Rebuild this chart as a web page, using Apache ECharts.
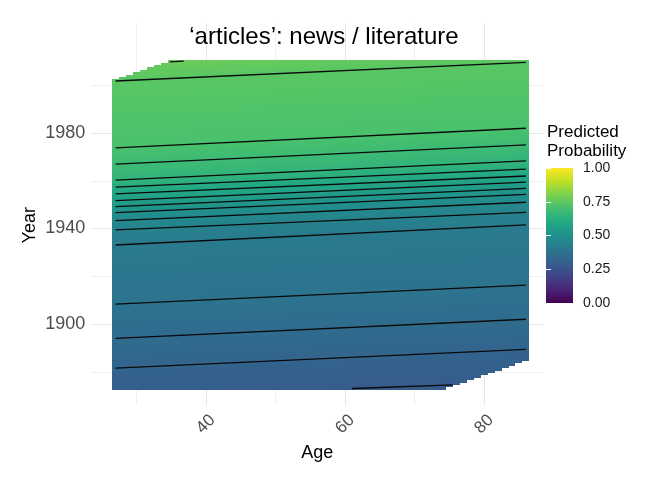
<!DOCTYPE html>
<html>
<head>
<meta charset="utf-8">
<title>'articles': news / literature</title>
<script src="https://cdn.jsdelivr.net/npm/echarts@6/dist/echarts.min.js"></script>
<style>
  html, body { margin: 0; padding: 0; background: #fff; }
  #chart { width: 648px; height: 481px; }
</style>
</head>
<body>
<div id="chart"></div>
<script>
// raster extent: one cell per age / year, only where birth year (year - age) is in range
const ageRange = [27, 86]
const yearRange = [1873, 2010]
const birthYearRange = [1799, 1975]

// contour lines: year where each line meets age 27 and age 86
// (first and last are only partly inside the raster, their ends are extended)
const contourLevels = [0.29, 0.32, 0.35, 0.38, 0.41, 0.44, 0.47, 0.50, 0.53,
  0.56, 0.59, 0.62, 0.65, 0.68, 0.71, 0.74, 0.77]
const contourYearAt27 = [1869.5, 1881.5, 1894.0, 1908.3, 1933.1, 1939.4, 1943.3, 1946.7, 1949.2,
  1951.7, 1954.5, 1957.3, 1960.3, 1967.0, 1973.8, 2001.8, 2008.8]
const contourYearAt86 = [1875.6, 1889.4, 1902.0, 1916.3, 1941.5, 1946.8, 1951.0, 1954.3, 1956.8,
  1959.4, 1962.0, 1964.9, 1968.3, 1975.0, 1982.0, 2009.6, 2016.6]
// visible pieces of the two partial lines
const bottomPartial = [[61, 1873.0], [75.5, 1874.5]]
const topPartial = [[34.8, 2009.8], [36.8, 2010.1]]

const ageTicks = [40, 60, 80]
const ageMinorTicks = [30, 50, 70]
const yearTicks = [1900, 1940, 1980]
const yearMinorTicks = [1880, 1920, 1960, 2000]

const viridis = ['#440154', '#482475', '#414487', '#355f8d', '#2a788e', '#21918c',
  '#22a884', '#44bf70', '#7ad151', '#bddf26', '#fde725']

// probability of a cell, taken between the two contour lines around it
function probAt(age, year) {
  const t = (age - ageRange[0]) / (ageRange[1] - ageRange[0])
  const ys = contourYearAt27.map((y0, i) => y0 + (contourYearAt86[i] - y0) * t)
  const n = ys.length
  let i = 0
  if (year >= ys[n - 1]) i = n - 2
  else if (year > ys[0]) while (year > ys[i + 1]) i++
  const f = (year - ys[i]) / (ys[i + 1] - ys[i])
  return contourLevels[i] + f * (contourLevels[i + 1] - contourLevels[i])
}

const cells = []
for (let a = ageRange[0]; a <= ageRange[1]; a++) {
  for (let y = yearRange[0]; y <= yearRange[1]; y++) {
    const b = y - a
    if (b < birthYearRange[0] || b > birthYearRange[1]) continue
    cells.push([a, y, probAt(a, y)])
  }
}

const contourLines = []
for (let i = 1; i < contourLevels.length - 1; i++) {
  contourLines.push([[ageRange[0], contourYearAt27[i]], [ageRange[1], contourYearAt86[i]]])
}
contourLines.push(bottomPartial, topPartial)

const majorGrid = { color: '#e6e6e6', width: 1, type: 'solid' }
const minorGrid = { color: '#f0f0f0', width: 1, type: 'solid' }
const axisText = { fontFamily: 'Liberation Sans', color: '#4d4d4d', fontSize: 17 }

const chart = echarts.init(document.getElementById('chart'))
const option = {
  animation: false,
  textStyle: { fontFamily: 'Liberation Sans' },
  title: [
    {
      text: '\u2018articles\u2019: news / literature',
      left: 'center',
      top: 25,
      padding: 0,
      textStyle: { fontSize: 24, fontWeight: 'normal', color: '#000' }
    },
    {
      text: 'Predicted\nProbability',
      left: 547,
      top: 123,
      padding: 0,
      textStyle: { fontSize: 17, lineHeight: 19, fontWeight: 'normal', color: '#000' }
    }
  ],
  grid: [
    { left: 91.2, top: 23.2, width: 452.1, height: 382 },
    { left: 546, top: 168, width: 27, height: 135 }
  ],
  xAxis: [
    {
      type: 'value',
      gridIndex: 0,
      min: 23.5,
      max: 88.5,
      axisLine: { show: false },
      axisTick: { show: false },
      splitLine: { show: false },
      axisLabel: Object.assign({
        customValues: ageTicks,
        rotate: 45,
        align: 'center',
        verticalAlign: 'middle',
        margin: 19,
        formatter: v => String(v)
      }, axisText),
      name: 'Age',
      nameLocation: 'middle',
      nameGap: 34,
      nameTextStyle: { fontSize: 18, color: '#000' }
    },
    { type: 'value', gridIndex: 1, min: 0, max: 1, show: false }
  ],
  yAxis: [
    {
      type: 'value',
      gridIndex: 0,
      min: 1866,
      max: 2026,
      axisLine: { show: false },
      axisTick: { show: false },
      splitLine: { show: false },
      axisLabel: Object.assign({
        customValues: yearTicks,
        margin: 6,
        formatter: v => String(v)
      }, axisText, { fontSize: 18 }),
      name: 'Year',
      nameLocation: 'middle',
      nameRotate: 90,
      nameGap: 52,
      nameMoveOverlap: false,
      nameTextStyle: { fontSize: 18, color: '#000', padding: [0, 22, 0, 0] }
    },
    {
      type: 'value',
      gridIndex: 1,
      position: 'right',
      min: 0,
      max: 1,
      interval: 0.25,
      z: 5,
      axisLine: { show: false },
      axisTick: { show: true, inside: true, length: 5, lineStyle: { color: '#fff', width: 1 } },
      splitLine: { show: false },
      axisLabel: { margin: 10, fontSize: 14, color: '#1a1a1a', formatter: v => v.toFixed(2) }
    },
    {
      type: 'value',
      gridIndex: 1,
      position: 'left',
      min: 0,
      max: 1,
      interval: 0.25,
      z: 5,
      axisLine: { show: false },
      axisTick: { show: true, inside: true, length: 5, lineStyle: { color: '#fff', width: 1 } },
      splitLine: { show: false },
      axisLabel: { show: false }
    }
  ],
  visualMap: {
    type: 'continuous',
    show: false,
    seriesIndex: 0,
    dimension: 2,
    min: 0,
    max: 1,
    inRange: { color: viridis }
  },
  series: [
    {
      type: 'custom',
      name: 'raster',
      xAxisIndex: 0,
      yAxisIndex: 0,
      z: 2,
      silent: true,
      data: cells,
      encode: { x: 0, y: 1 },
      renderItem(params, api) {
        // snap cells to whole pixels so rows do not leave seams
        const tl = api.coord([api.value(0) - 0.5, api.value(1) + 0.5])
        const br = api.coord([api.value(0) + 0.5, api.value(1) - 0.5])
        const x0 = Math.round(tl[0]), y0 = Math.round(tl[1])
        const x1 = Math.round(br[0]), y1 = Math.round(br[1])
        return {
          type: 'rect',
          shape: { x: x0, y: y0, width: x1 - x0, height: y1 - y0 },
          style: { fill: api.visual('color') }
        }
      }
    },
    {
      type: 'line',
      name: 'grid',
      xAxisIndex: 0,
      yAxisIndex: 0,
      data: [],
      silent: true,
      markLine: {
        silent: true,
        z: 1,
        symbol: ['none', 'none'],
        label: { show: false },
        lineStyle: majorGrid,
        data: [
          ...ageMinorTicks.map(v => ({ xAxis: v, lineStyle: minorGrid })),
          ...ageTicks.map(v => ({ xAxis: v, lineStyle: majorGrid })),
          ...yearMinorTicks.map(v => ({ yAxis: v, lineStyle: minorGrid })),
          ...yearTicks.map(v => ({ yAxis: v, lineStyle: majorGrid }))
        ]
      }
    },
    {
      type: 'custom',
      name: 'colorbar',
      xAxisIndex: 1,
      yAxisIndex: 1,
      z: 2,
      silent: true,
      data: [[0, 1]],
      renderItem(params, api) {
        const tl = api.coord([0, 1])
        const br = api.coord([1, 0])
        return {
          type: 'rect',
          shape: { x: tl[0], y: tl[1], width: br[0] - tl[0], height: br[1] - tl[1] },
          style: {
            fill: new echarts.graphic.LinearGradient(0, 1, 0, 0,
              viridis.map((c, i) => ({ offset: i / (viridis.length - 1), color: c })))
          }
        }
      }
    },
    ...contourLines.map(pts => ({
      type: 'line',
      xAxisIndex: 0,
      yAxisIndex: 0,
      z: 3,
      silent: true,
      showSymbol: false,
      symbol: 'none',
      data: pts,
      lineStyle: { color: '#0a0a0a', width: 1.3 }
    }))
  ]
}
chart.setOption(option)
</script>
</body>
</html>
